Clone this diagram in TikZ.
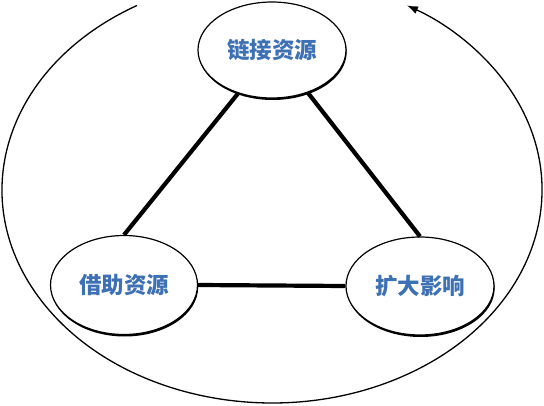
\documentclass[tikz,border=0pt]{standalone}
\usepackage{fontspec}
\newfontfamily\cjk{Noto Sans CJK SC}
\usetikzlibrary{shapes.geometric,shadows,arrows.meta}
\definecolor{txtblue}{RGB}{62,112,180}
\tikzset{
  bubble/.style={ellipse, draw=black, line width=1.2pt, fill=white,
    minimum width=#1, inner sep=0pt, font=\cjk\bfseries\fontsize{22.5}{25}\selectfont, text=txtblue,
    general shadow={shadow xshift=0.7pt, shadow yshift=-2pt, fill=black}},
  link/.style={line width=4.2pt, black},
  loop/.style={line width=1.3pt, black, -{Latex[length=11pt,width=8pt]}}
}
\begin{document}
\begin{tikzpicture}[x=1pt,y=1pt]
\useasboundingbox (0,0) rectangle (544,405);
\node[bubble=148pt, minimum height=96pt] (top) at (272,355) {链接资源};
\node[bubble=147pt, minimum height=99pt] (left) at (124,120) {借助资源};
\node[bubble=148pt, minimum height=98pt] (right) at (420,119) {扩大影响};
\draw[link] (top.232) -- (left.north);
\draw[link] (top.310) -- (right.north);
\draw[link] (left.east) -- (right.west);
\coordinate (s) at (137,399.5);
\draw[loop] (s) arc[start angle=120, end angle=420, x radius=270, y radius=213];
\end{tikzpicture}
\end{document}
